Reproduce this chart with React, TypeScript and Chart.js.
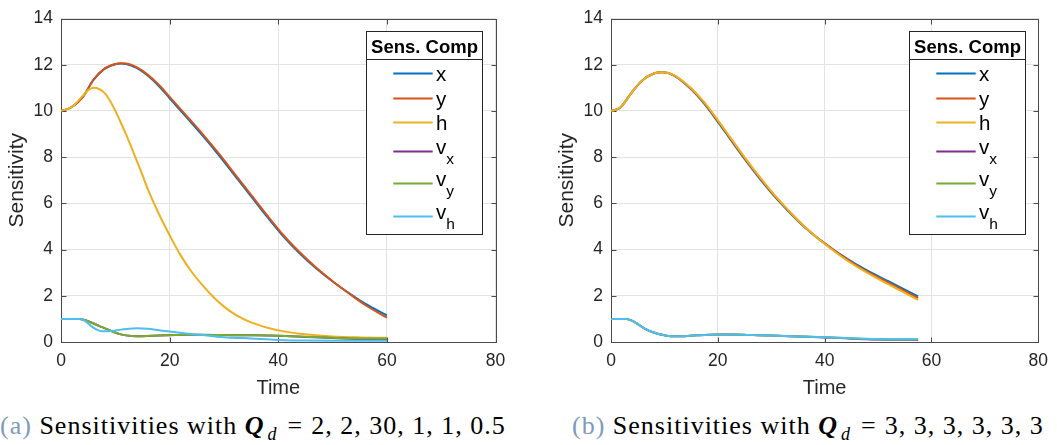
import React, { useEffect, useRef } from "react";
import { Chart, registerables } from "chart.js";
Chart.register(...registerables);

// ---------- shared ----------
const seriesLabels = ["x", "y", "h", "v_x", "v_y", "v_h"];
const seriesColors = ["#0072BD", "#D95319", "#EDB120", "#7E2F8E", "#77AC30", "#4DBEEE"];
const xTicks = [0, 20, 40, 60, 80];
const yTicks = [0, 2, 4, 6, 8, 10, 12, 14];
const xTitle = "Time";
const yTitle = "Sensitivity";
const legendTitle = "Sens. Comp";

// ---------- panel (a) ----------
const aTimeXY = [0, 2, 4, 6, 8, 10, 11, 12, 14, 16, 18, 20, 23, 26, 29, 32, 35, 38, 41, 44, 47, 50, 53, 56, 60];
const aX = [10, 10.17, 10.6, 11.35, 11.82, 12.02, 12.05, 12.03, 11.85, 11.52, 11.08, 10.55, 9.75, 8.95, 8.1, 7.2, 6.3, 5.4, 4.55, 3.82, 3.18, 2.62, 2.12, 1.66, 1.15];
const aY = [10, 10.17, 10.6, 11.35, 11.83, 12.03, 12.06, 12.05, 11.88, 11.56, 11.13, 10.61, 9.82, 9.02, 8.17, 7.27, 6.37, 5.47, 4.61, 3.87, 3.21, 2.63, 2.1, 1.6, 1.05];
const aTimeH = [0, 2, 4, 5, 6, 7, 8, 9, 10, 11, 12, 13, 14, 15, 16, 18, 20, 22, 24, 26, 28, 30, 32, 35, 38, 41, 44, 47, 50, 55, 60];
const aH = [10, 10.17, 10.65, 10.9, 11.0, 10.95, 10.78, 10.45, 10.0, 9.5, 8.97, 8.4, 7.82, 7.22, 6.6, 5.55, 4.62, 3.76, 3.05, 2.47, 1.96, 1.53, 1.2, 0.85, 0.62, 0.46, 0.36, 0.29, 0.24, 0.2, 0.18];
const aTimeV = [0, 3.5, 5, 7, 9, 11, 13, 15, 18, 21, 25, 30, 35, 40, 45, 50, 55, 60];
const aVx = [1, 1, 0.9, 0.7, 0.5, 0.33, 0.26, 0.25, 0.28, 0.3, 0.31, 0.3, 0.29, 0.27, 0.22, 0.17, 0.13, 0.12];
const aVy = [1, 1, 0.9, 0.7, 0.5, 0.33, 0.26, 0.25, 0.28, 0.3, 0.31, 0.3, 0.29, 0.27, 0.23, 0.18, 0.15, 0.15];
const aTimeVh = [0, 3.5, 4.5, 5.5, 6.5, 7.5, 8.5, 10, 12, 14, 16, 18, 20, 23, 26, 30, 35, 40, 45, 50, 55, 60];
const aVh = [1, 1, 0.9, 0.7, 0.55, 0.47, 0.46, 0.5, 0.56, 0.59, 0.57, 0.51, 0.45, 0.37, 0.3, 0.21, 0.15, 0.09, 0.06, 0.05, 0.05, 0.05];
const captionA = "2, 2, 30, 1, 1, 0.5";

// ---------- panel (b) ----------
const bTimeMain = [0, 1.7, 3.8, 5.7, 8, 9.7, 11.8, 14.9, 17.4, 20, 22.5, 25, 27.5, 30, 32.5, 35, 37.5, 40, 43, 46, 49, 52, 55, 57.5];
const bX = [10, 10.14, 10.77, 11.29, 11.62, 11.67, 11.53, 10.96, 10.33, 9.53, 8.72, 7.92, 7.17, 6.47, 5.83, 5.24, 4.72, 4.27, 3.78, 3.35, 2.97, 2.62, 2.27, 1.97];
const bY = [10, 10.14, 10.77, 11.29, 11.62, 11.67, 11.54, 10.98, 10.36, 9.57, 8.76, 7.96, 7.21, 6.5, 5.86, 5.26, 4.73, 4.27, 3.76, 3.31, 2.92, 2.56, 2.2, 1.9];
const bH = [10, 10.14, 10.77, 11.29, 11.62, 11.67, 11.55, 11.0, 10.39, 9.6, 8.8, 8.0, 7.24, 6.53, 5.88, 5.27, 4.73, 4.25, 3.72, 3.26, 2.86, 2.49, 2.13, 1.82];
const bTimeV = [0, 2.9, 4.5, 6.3, 8, 10, 11.2, 13, 16, 20, 23, 26.6, 30, 35, 40, 44, 48, 52, 57.5];
const bVx = [1, 1, 0.85, 0.58, 0.41, 0.29, 0.25, 0.25, 0.29, 0.32, 0.32, 0.3, 0.28, 0.24, 0.2, 0.16, 0.12, 0.1, 0.09];
const bVy = [1, 1, 0.85, 0.58, 0.41, 0.29, 0.25, 0.25, 0.29, 0.32, 0.32, 0.3, 0.28, 0.24, 0.21, 0.17, 0.13, 0.11, 0.11];
const bVh = [1, 1, 0.85, 0.58, 0.41, 0.29, 0.25, 0.25, 0.29, 0.32, 0.32, 0.3, 0.28, 0.24, 0.21, 0.17, 0.14, 0.12, 0.12];
const captionB = "3, 3, 3, 3, 3, 3";

const SANS = '"Liberation Sans", Arial, sans-serif';
const AXIS_COLOR = "#262626";

function mk(i: number, t: number[], v: number[]) {
  return {
    label: seriesLabels[i],
    borderColor: seriesColors[i],
    backgroundColor: seriesColors[i],
    order: -i,
    data: t.map((tt, k) => ({ x: tt, y: v[k] })),
  };
}

const boxPlugin = {
  id: "mlBox",
  beforeDatasetsDraw(chart: any) {
    const { ctx, chartArea: a, scales } = chart;
    const L = Math.round(a.left) + 0.5;
    const R = Math.round(a.right) + 0.5;
    const T = Math.round(a.top) + 0.5;
    const B = Math.round(a.bottom) + 0.5;
    ctx.save();
    ctx.strokeStyle = "#4a4a4a";
    ctx.lineWidth = 1;
    ctx.strokeRect(L, T, R - L, B - T);
    const tl = 5;
    ctx.beginPath();
    scales.x.ticks.forEach((t: any) => {
      const p = Math.round(scales.x.getPixelForValue(t.value)) + 0.5;
      ctx.moveTo(p, B); ctx.lineTo(p, B - tl);
      ctx.moveTo(p, T); ctx.lineTo(p, T + tl);
    });
    scales.y.ticks.forEach((t: any) => {
      const p = Math.round(scales.y.getPixelForValue(t.value)) + 0.5;
      ctx.moveTo(L, p); ctx.lineTo(L + tl, p);
      ctx.moveTo(R, p); ctx.lineTo(R - tl, p);
    });
    ctx.stroke();
    ctx.restore();
  },
};

const legendPlugin = {
  id: "mlLegend",
  afterDraw(chart: any) {
    const { ctx, chartArea } = chart;
    const w = 116;
    const h = 203;
    const right = Math.round(chartArea.right - 13.3);
    const left = right - w;
    const top = Math.round(chartArea.top + 12.6);
    ctx.save();
    ctx.fillStyle = "#ffffff";
    ctx.fillRect(left, top, w, h);
    ctx.strokeStyle = "#262626";
    ctx.lineWidth = 1;
    ctx.strokeRect(left + 0.5, top + 0.5, w, h);
    const sepY = top + 28.5;
    ctx.beginPath();
    ctx.moveTo(left, sepY);
    ctx.lineTo(left + w, sepY);
    ctx.stroke();
    ctx.fillStyle = "#000";
    ctx.font = `bold 18.5px ${SANS}`;
    ctx.textAlign = "center";
    ctx.textBaseline = "alphabetic";
    ctx.fillText(legendTitle, left + w / 2 + 0.5, top + 21.7);
    const rowYs = [42.4, 66.7, 91, 120, 152.4, 185];
    chart.data.datasets.forEach((ds: any, i: number) => {
      const y = Math.round(top + rowYs[i]) + 0.5;
      ctx.strokeStyle = ds.borderColor;
      ctx.lineWidth = 2;
      ctx.beginPath();
      ctx.moveTo(left + 27.3, y);
      ctx.lineTo(left + 66.7, y);
      ctx.stroke();
      const [main, sub] = String(ds.label).split("_");
      ctx.fillStyle = "#000";
      ctx.textAlign = "left";
      ctx.font = `20.5px ${SANS}`;
      if (sub) {
        ctx.fillText(main, left + 70, y + 2.7);
        const mw = ctx.measureText(main).width;
        ctx.font = `15.5px ${SANS}`;
        ctx.fillText(sub, left + 70 + mw, y + 12);
      } else {
        ctx.fillText(main, left + 70, y + 7);
      }
    });
    ctx.restore();
  },
};

function Panel({ datasets, left, width, padRight }: { datasets: any[]; left: number; width: number; padRight: number }) {
  const ref = useRef<HTMLCanvasElement>(null);
  useEffect(() => {
    const chart = new Chart(ref.current as HTMLCanvasElement, {
      type: "line",
      data: { datasets },
      options: {
        responsive: false,
        animation: false,
        devicePixelRatio: 1,
        layout: { padding: { top: 11, right: padRight, bottom: 0, left: 0 } },
        plugins: { legend: { display: false }, tooltip: { enabled: false } },
        elements: {
          point: { radius: 0 },
          line: { borderWidth: 2, cubicInterpolationMode: "monotone" },
        },
        scales: {
          x: {
            type: "linear",
            min: 0,
            max: 80,
            afterBuildTicks: (s: any) => {
              s.ticks = xTicks.map((v) => ({ value: v }));
            },
            afterFit: (s: any) => {
              s.height = 58;
            },
            grid: { color: "#e3e3e3", drawTicks: false },
            border: { display: false },
            ticks: { font: { family: SANS, size: 17.5 }, color: AXIS_COLOR, padding: 9, maxRotation: 0 },
            title: { display: true, text: xTitle, font: { family: SANS, size: 20 }, color: AXIS_COLOR, padding: { top: 0, bottom: 0 } },
          },
          y: {
            type: "linear",
            min: 0,
            max: 14,
            afterBuildTicks: (s: any) => {
              s.ticks = yTicks.map((v) => ({ value: v }));
            },
            afterFit: (s: any) => {
              s.width = 61;
            },
            grid: { color: "#e3e3e3", drawTicks: false },
            border: { display: false },
            ticks: { font: { family: SANS, size: 17.5 }, color: AXIS_COLOR, padding: 8 },
            title: { display: true, text: yTitle, font: { family: SANS, size: 21 }, color: AXIS_COLOR, padding: { top: 5, bottom: 0 } },
          },
        },
      } as any,
      plugins: [boxPlugin, legendPlugin],
    });
    return () => chart.destroy();
  }, []);
  return (
    <canvas
      ref={ref}
      width={width}
      height={400}
      style={{ position: "absolute", left, top: 0, width, height: 400 }}
    />
  );
}

function Caption({ tag, values, left }: { tag: string; values: string; left: number }) {
  return (
    <div
      style={{
        position: "absolute",
        left,
        top: 413,
        fontFamily: '"Liberation Serif", "Times New Roman", serif',
        fontSize: 26,
        lineHeight: "26px",
        letterSpacing: "1px",
        whiteSpace: "nowrap",
        color: "#000",
      }}
    >
      <span style={{ color: "#7d9bbb" }}>({tag})</span> Sensitivities with{" "}
      <b><i style={{ marginRight: 3 }}>Q</i></b>
      <i style={{ fontSize: 18, position: "relative", top: 6 }}>d</i>
      <span style={{ margin: "0 8px 0 10px" }}>=</span>
      {values}
    </div>
  );
}

export default function App() {
  const dsA = [
    mk(0, aTimeXY, aX),
    mk(1, aTimeXY, aY),
    mk(2, aTimeH, aH),
    mk(3, aTimeV, aVx),
    mk(4, aTimeV, aVy),
    mk(5, aTimeVh, aVh),
  ];
  const dsB = [
    mk(0, bTimeMain, bX),
    mk(1, bTimeMain, bY),
    mk(2, bTimeMain, bH),
    mk(3, bTimeV, bVx),
    mk(4, bTimeV, bVy),
    mk(5, bTimeV, bVh),
  ];
  return (
    <div style={{ position: "absolute", left: 0, top: 0, width: 1057, height: 445, background: "#fff", overflow: "hidden" }}>
      <Panel datasets={dsA} left={0} width={528} padRight={32.4} />
      <Panel datasets={dsB} left={550} width={507} padRight={11.7} />
      <Caption tag="a" values={captionA} left={0} />
      <Caption tag="b" values={captionB} left={572} />
    </div>
  );
}
